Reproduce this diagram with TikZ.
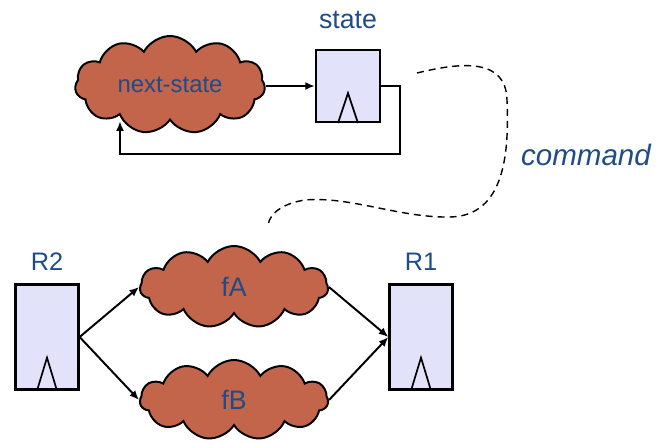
\documentclass[tikz,border=0pt]{standalone}
\usepackage{fontspec}
\setmainfont{Liberation Sans}
\usetikzlibrary{calc,shapes.symbols,arrows.meta,positioning}
\definecolor{txtblue}{HTML}{1F4C86}
\definecolor{cloudfill}{HTML}{C2654A}
\definecolor{regfill}{HTML}{E2E2FA}
\tikzset{
  reg/.style={draw,line width=1.6pt,fill=regfill,minimum width=1.6cm,inner sep=0pt},
  logic/.style={cloud,cloud puffs=11,cloud puff arc=125,aspect=2.2,draw,line width=1.4pt,
    fill=cloudfill,inner sep=0pt,text=txtblue},
  lbl/.style={text=txtblue,inner sep=0pt},
  wire/.style={line width=1.4pt,-{Latex[length=2.4mm,width=2mm]}}
}
\newcommand\clk[2]{\draw[line width=1.2pt]($(#1.south)+(-10,0)$)--($(#1.south)+(0,-#2)$)--($(#1.south)+(10,0)$);}
\begin{document}
\begin{tikzpicture}[x=0.025cm,y=-0.025cm]
      \useasboundingbox(0,0)rectangle(656,442);
      % upper part
      \begin{scope}
        \node[reg,minimum height=1.8cm](S)at(348,86){};
        \clk{S}{30}
        \node[lbl,font=\fontsize{19}{19}\selectfont,above=14pt of S](Slbl){state};
        \node[logic,minimum width=4.75cm,minimum height=2.45cm,font=\fontsize{17}{17}\selectfont](NS)at(170,85){next-state};
        \coordinate(P)at(400,86);
        \coordinate(Q)at(400,154);
        \coordinate(U)at(120,154);
        \draw[wire](NS.east|-S)--(S.west);
        \draw[wire](S.east|-P)--(P)--(Q)--(U)--(U|-NS.south);
      \end{scope}
      % command link
      \coordinate(C1)at(417,73);
      \coordinate(C2)at(268,225);
      \draw[line width=1pt,dash pattern=on 5pt off 3.5pt](C1)..controls(462,62)and(506,58)..(507,100)
        ..controls(509,150)and(506,216)..(450,217)..controls(400,218)and(350,196)..(305,200)
        ..controls(285,203)and(270,212)..(C2);
      \node[lbl,font=\itshape\fontsize{21}{21}\selectfont](cmd)at(586,155){command};
      % lower part
      \begin{scope}
        \node[reg,minimum width=1.575cm,minimum height=2.625cm](R2)at(47,337){};
        \node[reg,minimum width=1.575cm,minimum height=2.625cm](R1)at(421,337){};
        \clk{R2}{33}
        \clk{R1}{33}
        \node[lbl,font=\fontsize{18}{18}\selectfont,above=9pt of R2](R2lbl){R2};
        \node[lbl,font=\fontsize{18}{18}\selectfont,above=9pt of R1](R1lbl){R1};
        \node[logic,minimum width=4.7cm,minimum height=2.05cm,font=\fontsize{19}{19}\selectfont](fA)at(234,287){fA};
        \node[logic,minimum width=4.7cm,minimum height=2.0cm,font=\fontsize{19}{19}\selectfont](fB)at(234,400){fB};
        \draw[wire](R2.east)--(fA.west);
        \draw[wire](R2.east)--(fB.west);
        \draw[wire](fA.east)--(R1.west);
        \draw[wire](fB.east)--(R1.west);
      \end{scope}
    \end{tikzpicture}
\end{document}
